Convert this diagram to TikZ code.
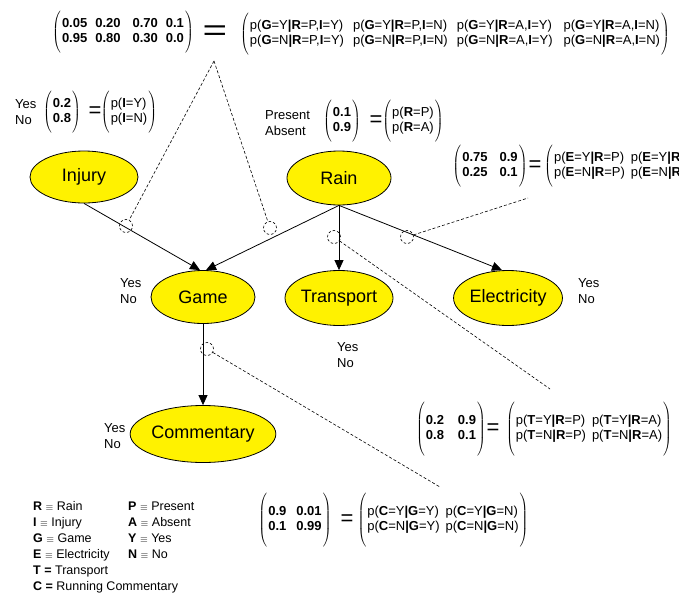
\documentclass[tikz,border=0pt]{standalone}
\usepackage{fontspec}
\setmainfont{Liberation Sans}
\usetikzlibrary{shapes.geometric,arrows.meta}
\newcommand{\eqv}{{\fontsize{10}{10}\selectfont$\equiv$}}
\newcommand{\pmx}[3]{{\fontsize{10}{12}\selectfont$\delimitershortfall=0pt\delimiterfactor=1000\left(\vcenter{\hbox{\vrule height#3 depth#3 width0pt}}\mkern2mu\vcenter{\hbox{\fontsize{13}{15}\selectfont\begin{tabular}{#1}#2\end{tabular}}}\mkern2mu\right)$}}
\begin{document}
\begin{tikzpicture}[x=1pt,y=-1pt,
  var/.style={ellipse,draw,fill=yellow,line width=0.8pt,inner sep=0pt,font=\fontsize{18}{20}\selectfont},
  mat/.style={inner sep=0pt},
  nummat/.style={inner sep=0pt,font=\bfseries},
  lab/.style={inner sep=0pt,anchor=west,align=left,font=\fontsize{13}{16}\selectfont},
  eqs/.style={inner sep=0pt,font=\fontsize{22}{22}\selectfont},
  bigeqs/.style={inner sep=0pt,font=\fontsize{30}{30}\selectfont},
  edge/.style={draw,line width=0.8pt,-{Triangle[length=10pt,width=9pt]}},
  tap/.style={circle,draw,dash pattern=on 2.5pt off 2pt,minimum size=13pt,inner sep=0pt,line width=0.6pt},
  link/.style={dash pattern=on 3pt off 2pt,line width=0.6pt}]
\useasboundingbox (0,0) rectangle (679,597);
\clip (0,0) rectangle (679,597);

% variables
\node[var,minimum width=108pt,minimum height=52pt] (injury) at (84,177) {Injury};
\node[var,minimum width=104pt,minimum height=54pt] (rain) at (339,178) {Rain};
\node[var,minimum width=104pt,minimum height=53pt] (game) at (203,297) {Game};
\node[var,minimum width=105pt,minimum height=55pt] (transport) at (339,298) {Transport};
\node[var,minimum width=104pt,minimum height=55pt] (elec) at (508,298) {Electricity};
\node[var,minimum width=120pt,minimum height=57pt] (comm) at (203,434) {Commentary};

% edges
\draw[edge] (injury.south) -- ([xshift=-3pt]game.north);
\draw[edge] (rain.south) -- ([xshift=3pt]game.north);
\draw[edge] (rain.south) -- (transport.north);
\draw[edge] (rain.south) -- ([xshift=-6pt]elec.north);
\draw[edge] (game.south) -- (comm.north);

% taps
\node[tap] (t1) at (126,226) {};
\node[tap] (t2) at (270,228) {};
\node[tap] (t3) at (334,237) {};
\node[tap] (t4) at (407,237) {};
\node[tap] (t5) at (207,349) {};
\coordinate (apex) at (214,61);
\coordinate (tend) at (550,389);
\coordinate (eend) at (528,198);
\coordinate (cend) at (440,487);
\draw[link] (apex) -- (t1);
\draw[link] (apex) -- (t2);
\draw[link] (t3) -- (tend);
\draw[link] (t4) -- (eend);
\draw[link] (t5) -- (cend);

% Game CPT
\node[nummat] (gnum) at (123,32) {\pmx{@{}l@{\hspace{8pt}}l@{\hspace{12pt}}l@{\hspace{8pt}}l@{}}{0.05&0.20&0.70&0.1\\0.95&0.80&0.30&0.0}{20.5pt}};
\node[bigeqs] (geq) at (215,33) {\scalebox{1.4}[1]{=}};
\node[mat] (gp) at (455,34) {\pmx{@{}l@{\hspace{9pt}}l@{\hspace{9pt}}l@{\hspace{11pt}}l@{}}{%
p(\textbf{G}=Y\textbf{|R}=P,\textbf{I}=Y) & p(\textbf{G}=Y\textbf{|R}=P,\textbf{I}=N) & p(\textbf{G}=Y\textbf{|R}=A,\textbf{I}=Y) & p(\textbf{G}=Y\textbf{|R}=A,\textbf{I}=N)\\
p(\textbf{G}=N\textbf{|R}=P,\textbf{I}=Y) & p(\textbf{G}=N\textbf{|R}=P,\textbf{I}=N) & p(\textbf{G}=N\textbf{|R}=A,\textbf{I}=Y) & p(\textbf{G}=N\textbf{|R}=A,\textbf{I}=N)}{21pt}};

% Injury prior
\node[lab] (iyn) at (15,112) {Yes\\No};
\node[nummat] (inum) at (62,112) {\pmx{@{}l@{}}{0.2\\0.8}{21pt}};
\node[eqs] (ieq) at (95,112) {=};
\node[mat] (ip) at (129,112) {\pmx{@{}l@{}}{p(\textbf{I}=Y)\\p(\textbf{I}=N)}{21pt}};

% Rain prior
\node[lab] (ryn) at (265,123) {Present\\Absent};
\node[nummat] (rnum) at (342,121) {\pmx{@{}l@{}}{0.1\\0.9}{21pt}};
\node[eqs] (req) at (376,121) {=};
\node[mat] (rp) at (413,121) {\pmx{@{}l@{}}{p(\textbf{R}=P)\\p(\textbf{R}=A)}{21pt}};

% Electricity CPT
\node[nummat] (enum) at (490,166) {\pmx{@{}l@{\hspace{12pt}}l@{}}{0.75&0.9\\0.25&0.1}{20pt}};
\node[eqs] (eeq) at (535,166) {=};
\node[mat,anchor=west] (ep) at (544,166) {\pmx{@{}l@{\hspace{6pt}}l@{}}{p(\textbf{E}=Y\textbf{|R}=P) & p(\textbf{E}=Y\textbf{|R}=A)\\p(\textbf{E}=N\textbf{|R}=P) & p(\textbf{E}=N\textbf{|R}=A)}{20pt}};

% Transport CPT
\node[nummat] (tnum) at (451,429) {\pmx{@{}l@{\hspace{14pt}}l@{}}{0.2&0.9\\0.8&0.1}{24.5pt}};
\node[eqs] (teq) at (493,429) {=};
\node[mat] (tp) at (589,429) {\pmx{@{}l@{\hspace{6pt}}l@{}}{p(\textbf{T}=Y\textbf{|R}=P) & p(\textbf{T}=Y\textbf{|R}=A)\\p(\textbf{T}=N\textbf{|R}=P) & p(\textbf{T}=N\textbf{|R}=A)}{24.5pt}};

% Commentary CPT
\node[nummat] (cnum) at (295,520) {\pmx{@{}l@{\hspace{10pt}}l@{}}{0.9&0.01\\0.1&0.99}{26.5pt}};
\node[eqs] (ceq) at (347,520) {=};
\node[mat] (cp) at (443,520) {\pmx{@{}l@{\hspace{6pt}}l@{}}{p(\textbf{C}=Y\textbf{|G}=Y) & p(\textbf{C}=Y\textbf{|G}=N)\\p(\textbf{C}=N\textbf{|G}=Y) & p(\textbf{C}=N\textbf{|G}=N)}{26.5pt}};

% state labels
\node[lab] (gyn) at (120,291) {Yes\\No};
\node[lab] (eyn) at (578,291) {Yes\\No};
\node[lab] (tyn) at (337,355) {Yes\\No};
\node[lab] (cyn) at (104,436) {Yes\\No};

% legend
\node[lab,anchor=north west,font=\fontsize{12.5}{16}\selectfont] (legend) at (33,499) {%
\begin{tabular}{@{}p{95pt}@{}l@{}}
\textbf{R} \eqv{} Rain & \textbf{P} \eqv{} Present\\
\textbf{I} \eqv{} Injury & \textbf{A} \eqv{} Absent\\
\textbf{G} \eqv{} Game & \textbf{Y} \eqv{} Yes\\
\textbf{E} \eqv{} Electricity & \textbf{N} \eqv{} No\\
\multicolumn{2}{@{}l@{}}{\textbf{T =} Transport}\\
\multicolumn{2}{@{}l@{}}{\textbf{C =} Running Commentary}
\end{tabular}};
\end{tikzpicture}
\end{document}
